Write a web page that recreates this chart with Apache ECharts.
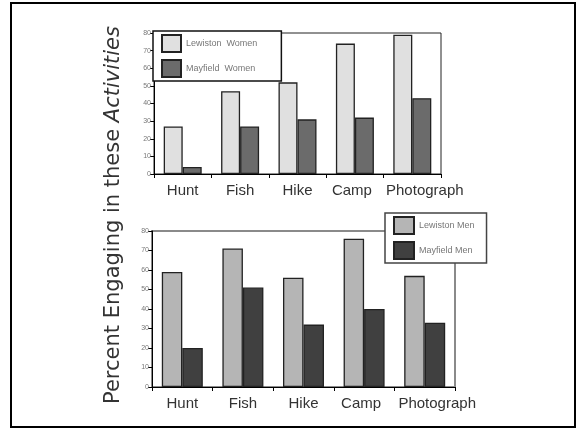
<!DOCTYPE html>
<html>
<head>
<meta charset="utf-8">
<script src="https://cdn.jsdelivr.net/npm/echarts@6/dist/echarts.min.js"></script>
<style>html,body{margin:0;padding:0;background:#fff;}#c{width:576px;height:429px;}</style>
</head>
<body>
<div id="c"></div>
<script>
const categories = ['Hunt', 'Fish', 'Hike', 'Camp', 'Photograph'];
const lewistonWomen = [27, 47, 52, 74, 79];
const mayfieldWomen = [4, 27, 31, 32, 43];
const lewistonMen = [59, 71, 56, 76, 57];
const mayfieldMen = [20, 51, 32, 40, 33];
const yTicks = { min: 0, max: 80, interval: 10 };

// label nudges (layout only) to keep the last two labels apart as in the reference
const labelPadding = { Camp: [0, 6, 0, 0], Photograph: [0, 0, 0, 25] };

const chart = echarts.init(document.getElementById('c'), null, { renderer: 'canvas' });

function xAxis(gridIndex) {
  return {
    type: 'category', gridIndex,
    data: categories.map(c => labelPadding[c] ? { value: c, textStyle: { padding: labelPadding[c] } } : c),
    axisLine: { lineStyle: { color: '#000', width: 1 } },
    axisTick: { show: true, length: 4, interval: 0, lineStyle: { color: '#000' } },
    axisLabel: { color: '#333', fontSize: 15, fontFamily: 'Liberation Sans, Arial', margin: 9, interval: 0, hideOverlap: false }
  };
}
function yAxis(gridIndex) {
  return {
    type: 'value', gridIndex, min: yTicks.min, max: yTicks.max, interval: yTicks.interval,
    axisLine: { show: true, lineStyle: { color: '#000', width: 1 } },
    axisTick: { show: true, length: 4, lineStyle: { color: '#000' } },
    axisLabel: { color: '#777', fontSize: 7, fontFamily: 'Liberation Sans, Arial', margin: 3 },
    splitLine: { show: false }
  };
}

chart.setOption({
  animation: false,
  backgroundColor: '#fff',
  grid: [
    { left: 154, top: 33, width: 287, height: 141, show: true, borderColor: '#222', borderWidth: 1, backgroundColor: 'transparent' },
    { left: 152, top: 231, width: 303, height: 156, show: true, borderColor: '#8a8a8a', borderWidth: 2, backgroundColor: 'transparent' }
  ],
  xAxis: [xAxis(0), xAxis(1)],
  yAxis: [yAxis(0), yAxis(1)],
  legend: [
    {
      data: ['Lewiston  Women', 'Mayfield  Women'], orient: 'vertical', left: 153, top: 31,
      itemWidth: 19, itemHeight: 17, itemGap: 6, padding: [3, 24, 3, 8],
      backgroundColor: '#fff', borderColor: '#111', borderWidth: 1.5,
      textStyle: { fontSize: 9, color: '#777', fontFamily: 'Liberation Sans, Arial' },
      icon: 'rect'
    },
    {
      data: ['Lewiston Men', 'Mayfield Men'], orient: 'vertical', left: 385, top: 213,
      itemWidth: 20, itemHeight: 17, itemGap: 6, padding: [3, 12, 3, 8],
      backgroundColor: '#fff', borderColor: '#444', borderWidth: 1.5,
      textStyle: { fontSize: 9, color: '#777', fontFamily: 'Liberation Sans, Arial' },
      icon: 'rect'
    }
  ],
  series: [
    { name: 'Lewiston  Women', type: 'bar', xAxisIndex: 0, yAxisIndex: 0, data: lewistonWomen, barWidth: 19, barGap: '0%',
      itemStyle: { color: '#e0e0e0', borderColor: '#222', borderWidth: 1.3 } },
    { name: 'Mayfield  Women', type: 'bar', xAxisIndex: 0, yAxisIndex: 0, data: mayfieldWomen, barWidth: 19, barGap: '0%',
      itemStyle: { color: '#6b6b6b', borderColor: '#222', borderWidth: 1.3 } },
    { name: 'Lewiston Men', type: 'bar', xAxisIndex: 1, yAxisIndex: 1, data: lewistonMen, barWidth: 20.5, barGap: '0%',
      itemStyle: { color: '#b5b5b5', borderColor: '#222', borderWidth: 1.3 } },
    { name: 'Mayfield Men', type: 'bar', xAxisIndex: 1, yAxisIndex: 1, data: mayfieldMen, barWidth: 20.5, barGap: '0%',
      itemStyle: { color: '#404040', borderColor: '#222', borderWidth: 1.3 } }
  ],
  graphic: [
    { type: 'rect', shape: { x: 11, y: 3, width: 564, height: 424 }, style: { fill: 'none', stroke: '#000', lineWidth: 2 }, z: 100 },
    { type: 'text', x: 114, y: 215, rotation: Math.PI / 2,
      style: {
        text: '{a|Percent Engaging in these }{b|Activities}',
        align: 'center', verticalAlign: 'middle',
        rich: {
          a: { fontSize: 21, fontFamily: 'DejaVu Sans', fill: '#333' },
          b: { fontSize: 21, fontFamily: 'DejaVu Sans', fontStyle: 'italic', fill: '#333' }
        }
      } }
  ]
});
</script>
</body>
</html>
